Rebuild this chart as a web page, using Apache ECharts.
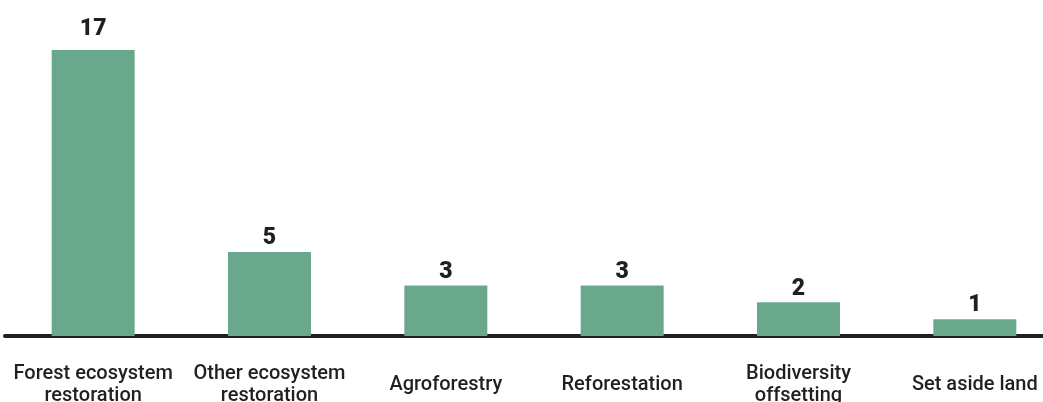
<!DOCTYPE html>
<html><head><meta charset="utf-8">
<script src="https://cdn.jsdelivr.net/npm/echarts@6/dist/echarts.min.js"></script>
<style>html,body{margin:0;padding:0;background:#fff}#c{width:1043px;height:402px}</style>
</head><body><div id="c"></div>
<script>
const categories = ['Forest ecosystem\nrestoration','Other ecosystem\nrestoration','Agroforestry','Reforestation','Biodiversity\noffsetting','Set aside land'];
const values = [17,5,3,3,2,1];
const maxVal = Math.max(...values);
const chart = echarts.init(document.getElementById('c'));
chart.setOption({
  animation:false,
  grid:{left:5,width:1058,top:50,bottom:66,outerBoundsMode:'none',containLabel:false},
  xAxis:{type:'category',data:categories,
    axisLine:{lineStyle:{color:'#231f20',width:4}},
    axisTick:{show:false},
    axisLabel:{interval:0,color:'#231f20',fontFamily:'Roboto',fontWeight:500,fontSize:20,lineHeight:22,verticalAlign:'middle',margin:49}},
  yAxis:{type:'value',min:0,max:17,show:false,splitLine:{show:false}},
  series:[{type:'bar',data:values.map(v => v === maxVal ? {value:v,label:{distance:9}} : v),barWidth:83,itemStyle:{color:'#6aa88e'},
    label:{show:true,position:'top',distance:2,color:'#231f20',fontFamily:'Roboto',fontWeight:900,fontSize:23}}]
});
</script></body></html>
